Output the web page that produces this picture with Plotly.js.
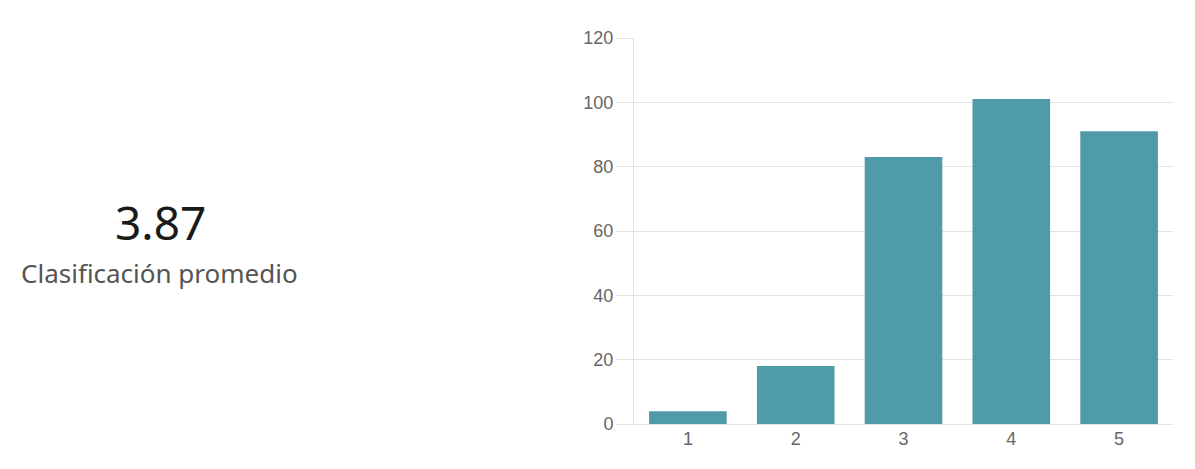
<!DOCTYPE html>
<html>
<head>
<meta charset="utf-8">
<script src="https://cdn.plot.ly/plotly-3.0.1.min.js"></script>
<style>
html,body{margin:0;padding:0;background:#fff;}
#chart{width:1195px;height:469px;}
</style>
</head>
<body>
<div id="chart"></div>
<script>
const categories = ["1", "2", "3", "4", "5"];
const counts = [4, 18, 83, 101, 91];
const yTicks = [0, 20, 40, 60, 80, 100, 120];
const averageValue = "3.87";
const averageLabel = "Clasificación promedio";

const L = 634, R = 22, T = 38, B = 45, W = 1195, H = 469;
const pw = W - L - R, ph = H - T - B;
const gridColor = "#e6e1e1";

const trace = {
  type: "bar",
  x: categories,
  y: counts,
  marker: {color: "#4f9ca8"},
  width: 0.72,
  hoverinfo: "x+y"
};

const layout = {
  width: W, height: H,
  margin: {l: L, r: R, t: T, b: B, pad: 0},
  paper_bgcolor: "#fff", plot_bgcolor: "#fff",
  showlegend: false,
  font: {family: "Liberation Sans, Arial, sans-serif", color: "#666", size: 18},
  xaxis: {
    type: "category",
    showgrid: false,
    showline: false,
    zeroline: false,
    ticks: "",
    tickfont: {size: 18, color: "#666"},
    ticklabelstandoff: 2
  },
  yaxis: {
    range: [0, 120],
    tickvals: yTicks,
    ticktext: yTicks.map(String),
    showgrid: true,
    gridcolor: gridColor,
    gridwidth: 1,
    zeroline: true,
    zerolinecolor: gridColor,
    zerolinewidth: 1,
    showline: true,
    linecolor: gridColor,
    linewidth: 1,
    ticks: "outside",
    ticklen: 17,
    tickcolor: gridColor,
    tickwidth: 1,
    tickfont: {size: 18, color: "#666"},
    ticklabelstandoff: -1
  },
  annotations: [
    {
      text: averageValue,
      xref: "paper", yref: "paper",
      x: (160 - L) / pw, y: (H - B - 222) / ph,
      xanchor: "center", yanchor: "middle",
      showarrow: false,
      font: {family: "Noto Sans, Open Sans, sans-serif", size: 46, color: "#1a1a1a"}
    },
    {
      text: averageLabel,
      xref: "paper", yref: "paper",
      x: (159 - L) / pw, y: (H - B - 273) / ph,
      xanchor: "center", yanchor: "middle",
      showarrow: false,
      font: {family: "Noto Sans, Open Sans, sans-serif", size: 26, color: "#555"}
    }
  ]
};

Plotly.newPlot("chart", [trace], layout, {displayModeBar: false, responsive: false});
</script>
</body>
</html>
